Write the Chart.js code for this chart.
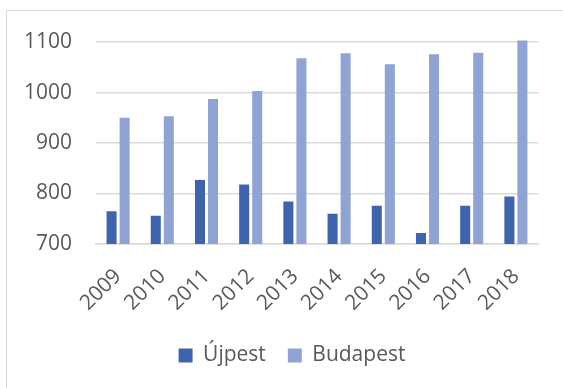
<!DOCTYPE html>
<html>
<head>
<meta charset="utf-8">
<script src="https://cdn.jsdelivr.net/npm/chart.js@4"></script>
<style>
  body { margin: 0; background: #fff; }
  #wrap { position: relative; width: 563px; height: 388px; overflow: hidden; }
  #frame { position: absolute; left: 6px; top: 10px; width: 600px; height: 420px; border: 1px solid #d9d9d9; box-sizing: border-box; }
  #myChart { position: absolute; left: 0; top: 0; }
</style>
</head>
<body>
<div id="wrap">
  <div id="frame"></div>
  <canvas id="myChart" width="563" height="388"></canvas>
</div>
<script>
var years = ['2009', '2010', '2011', '2012', '2013', '2014', '2015', '2016', '2017', '2018']
var ujpest = [765, 756, 827, 818, 784, 760, 776, 722, 776, 794]
var budapest = [950, 953, 987, 1003, 1068, 1078, 1056, 1076, 1079, 1103]
var y_ticks = [700, 800, 900, 1000, 1100]

var label_font = { family: '"Open Sans", "Noto Sans", sans-serif', size: 21 }

// nudge the legend a bit to the right, under the plot area
var legend_shift = {
  id: 'legend_shift',
  afterLayout: function (chart) {
    chart.legend.left += 10
    chart.legend.right += 10
  }
}

const ctx = document.getElementById('myChart');

new Chart(ctx, {
  type: 'bar',
  data: {
    labels: years,
    datasets: [{
      label: 'Újpest',
      data: ujpest,
      backgroundColor: '#3e64ad',
      categoryPercentage: 0.59,
      barPercentage: 0.77
    }, {
      label: 'Budapest',
      data: budapest,
      backgroundColor: '#8fa4d4',
      categoryPercentage: 0.59,
      barPercentage: 0.77
    }]
  },
  plugins: [legend_shift],
  options: {
    responsive: false,
    animation: false,
    layout: {
      padding: { left: 26, right: 25, top: 37, bottom: 12 }
    },
    plugins: {
      tooltip: { enabled: false },
      legend: {
        position: 'bottom',
        labels: {
          boxWidth: 14,
          boxHeight: 14,
          padding: 22,
          color: '#595959',
          font: label_font
        }
      }
    },
    scales: {
      x: {
        grid: { display: false, drawTicks: false },
        border: { color: '#d9d9d9', width: 1.5 },
        ticks: { minRotation: 45, maxRotation: 45, padding: 20, color: '#595959', font: label_font },
        afterFit: function (axis) { axis.height = 79 }
      },
      y: {
        min: 700,
        max: 1110,
        afterBuildTicks: function (axis) {
          axis.ticks = y_ticks.map(function (v) { return { value: v } })
        },
        grid: { color: '#d9d9d9', lineWidth: 1.5, drawTicks: false },
        border: { display: false },
        ticks: {
          padding: 24,
          color: '#595959',
          font: label_font,
          callback: function (v) { return String(v) }
        },
        afterFit: function (axis) { axis.width = 70 }
      }
    }
  }
});
</script>
</body>
</html>
